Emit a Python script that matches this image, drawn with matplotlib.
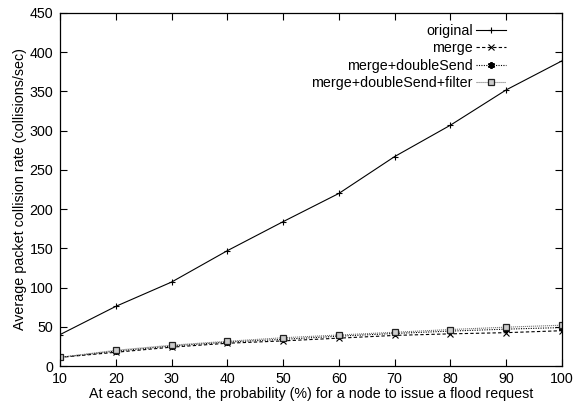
import matplotlib
matplotlib.use("Agg")
import matplotlib.pyplot as plt

plt.rcParams['font.family'] = ['Liberation Sans', 'DejaVu Sans']

x = [10, 20, 30, 40, 50, 60, 70, 80, 90, 100]
original = [40, 76, 107, 147, 184, 220, 267, 307, 352, 389]
merge = [11, 17.5, 24, 29, 32, 35.5, 39, 41, 42.5, 45]
merge_double = [11, 19, 25.5, 30.5, 34, 38, 41.5, 44.5, 47, 49]
merge_double_filter = [11, 20, 26.5, 31.5, 36, 39.5, 43, 46.5, 49.5, 52]

labels = ['original', 'merge', 'merge+doubleSend', 'merge+doubleSend+filter']
xticks = [10, 20, 30, 40, 50, 60, 70, 80, 90, 100]
yticks = [0, 50, 100, 150, 200, 250, 300, 350, 400, 450]

FS = 10.3
fig = plt.figure(figsize=(5.85, 4.04), dpi=100)
ax = fig.add_axes([60 / 585, 1 - 366 / 404, (562 - 60) / 585, (366 - 13) / 404])

ax.plot(x, original, color='black', lw=0.8, ls='-', marker='+', ms=5, mew=0.8, label=labels[0])
ax.plot(x, merge, color='black', lw=0.8, ls=(0, (3, 2)), marker='x', ms=4, mew=0.8, label=labels[1])
ax.plot(x, merge_double, color='black', lw=0.8, ls=(0, (1, 1.2)), marker=(6, 2, 0), ms=5, mew=1.3, label=labels[2])
ax.plot(x, merge_double_filter, color='#777777', lw=0.8, ls=(0, (1, 0.8)), marker='s', ms=4.5, mew=0.9,
        mfc='#cccccc', mec='#222222', label=labels[3])

ax.set_xlim(10, 100)
ax.set_ylim(0, 450)
ax.set_xticks(xticks)
ax.set_yticks(yticks)
ax.tick_params(direction='in', top=True, right=True, length=5, width=0.8, labelsize=FS)
ax.tick_params(axis='x', pad=4.3)
ax.tick_params(axis='y', pad=4.8)
for s in ax.spines.values():
    s.set_linewidth(0.9)

ax.set_xlabel('At each second, the probability (%) for a node to issue a flood request', fontsize=FS, labelpad=0.5)
ax.set_ylabel('Average packet collision rate (collisions/sec)', fontsize=FS, labelpad=2)

leg = ax.legend(loc='upper right', bbox_to_anchor=(0.889, 0.968), frameon=False, markerfirst=False,
                fontsize=FS, handlelength=2.15, handletextpad=0.2, labelspacing=0.22, borderaxespad=0,
                borderpad=0)

fig.savefig('out.png', dpi=100)
